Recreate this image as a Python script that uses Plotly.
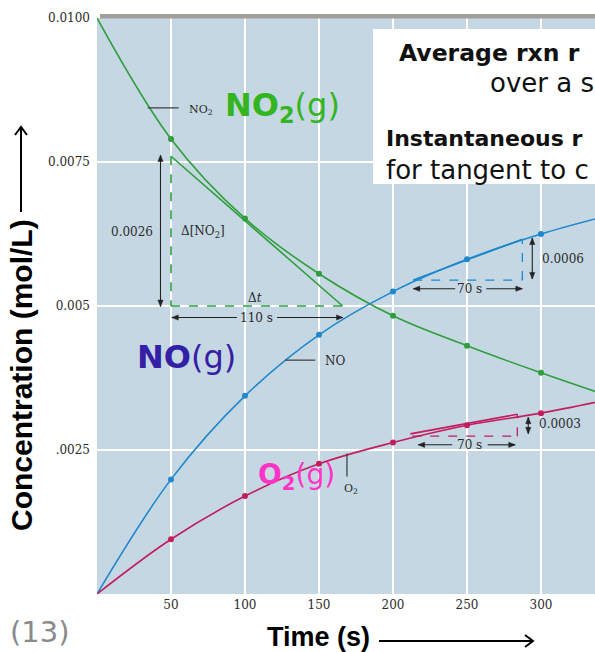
import plotly.graph_objects as go

# ---------------- data ----------------
time_s = [0, 50, 100, 150, 200, 250, 300, 350]
no2_conc = [0.0100, 0.0079, 0.00652, 0.00556, 0.00483, 0.00431, 0.00384, 0.0034]
no_conc = [0.0, 0.00199, 0.00344, 0.00450, 0.00525, 0.00581, 0.00625, 0.0066]
o2_conc = [0.0, 0.00095, 0.00170, 0.00226, 0.00263, 0.00293, 0.00314, 0.0034]

x_tick_vals = [50, 100, 150, 200, 250, 300]
x_tick_text = ["50", "100", "150", "200", "250", "300"]
y_tick_vals = [0.0025, 0.005, 0.0075, 0.0100]
y_tick_text = [".0025", "0.005", "0.0075", "0.0100"]

# tangent / secant constructions (time in s, concentration in mol/L)
no2_tan_t = [50, 166]
no2_tan_c = [0.0076, 0.0050]
no_tan_t = [213.7, 287.4]
no_tan_c = [0.00545, 0.00616]
o2_tan_t = [211.7, 284.0]
o2_tan_c = [0.00278, 0.00312]

# ---------------- style ----------------
GREEN = "#2f9e3c"
BLUE = "#1f88cc"
CRIM = "#c41d5f"
BG = "#c5d7e3"
SERIF = "DejaVu Serif"
TXT = "#2a2a2a"

L, T, W, H = 97, 18, 498, 576
X_RANGE = [0, W / 1.48]
Y_RANGE = [0, 0.0100001]
XS = W / (X_RANGE[1] - X_RANGE[0])   # pixels per second
YS = H / (Y_RANGE[1] - Y_RANGE[0])   # pixels per mol/L

def px(xp):
    return (xp - L) / W
def py(yp):
    return 1 - (yp - T) / H

fig = go.Figure()

for conc, col in [(no2_conc, GREEN), (no_conc, BLUE), (o2_conc, CRIM)]:
    fig.add_trace(go.Scatter(x=time_s, y=conc, mode="lines",
                             line=dict(color=col, width=1.6, shape="spline", smoothing=1.0),
                             hoverinfo="skip", showlegend=False))
    fig.add_trace(go.Scatter(x=time_s[1:7], y=conc[1:7], mode="markers",
                             marker=dict(color=col, size=6),
                             hoverinfo="skip", showlegend=False))

# tangent lines
for tt, cc, col in [(no2_tan_t, no2_tan_c, GREEN), (no_tan_t, no_tan_c, BLUE), (o2_tan_t, o2_tan_c, CRIM)]:
    fig.add_trace(go.Scatter(x=tt, y=cc, mode="lines", line=dict(color=col, width=1.6),
                             hoverinfo="skip", showlegend=False))

shapes = []
def dline(x0, y0, x1, y1, col, dash="dash", width=1.6, ref="x"):
    shapes.append(dict(type="line", xref="x" if ref == "x" else "paper",
                       yref="y" if ref == "x" else "paper", x0=x0, y0=y0, x1=x1, y1=y1,
                       line=dict(color=col, width=width, dash=dash)))

def head(xh, yh, ux, uy, col="#222", ln=6.5, hw=2.6, ref="x", open_=False):
    """arrow head with tip at (xh, yh); (ux, uy) is the pixel direction (y up)."""
    sx, sy = (XS, YS) if ref == "x" else (W, H)
    bx, by = -ux * ln, -uy * ln
    pxp, pyp = -uy * hw, ux * hw
    p1 = (xh + (bx + pxp) / sx, yh + (by + pyp) / sy)
    p2 = (xh + (bx - pxp) / sx, yh + (by - pyp) / sy)
    if open_:
        path = f"M{p1[0]},{p1[1]} L{xh},{yh} L{p2[0]},{p2[1]}"
        shapes.append(dict(type="path", path=path, xref="x" if ref == "x" else "paper",
                           yref="y" if ref == "x" else "paper",
                           line=dict(color=col, width=2)))
    else:
        path = f"M{xh},{yh} L{p1[0]},{p1[1]} L{p2[0]},{p2[1]} Z"
        shapes.append(dict(type="path", path=path, xref="x" if ref == "x" else "paper",
                           yref="y" if ref == "x" else "paper",
                           fillcolor=col, line=dict(color=col, width=0.5)))

def varrow(x, y_top, y_bot):
    dline(x, y_top, x, y_bot, "#222", dash="solid", width=1.1)
    head(x, y_top, 0, 1)
    head(x, y_bot, 0, -1)

def harrow(x_head, x_tail, y):
    dline(x_head, y, x_tail, y, "#222", dash="solid", width=1.1)
    head(x_head, y, 1 if x_head > x_tail else -1, 0)

# dashed triangles
dline(no2_tan_t[0], no2_tan_c[0], no2_tan_t[0], no2_tan_c[1], GREEN)
dline(no2_tan_t[0], no2_tan_c[1], no2_tan_t[1], no2_tan_c[1], GREEN)
dline(no_tan_t[0], no_tan_c[0], no_tan_t[1], no_tan_c[0], BLUE, width=1.3)
dline(no_tan_t[1], no_tan_c[0], no_tan_t[1], no_tan_c[1], BLUE, width=1.3)
dline(213, 0.00274, o2_tan_t[1], 0.00274, CRIM, width=1.3)
dline(o2_tan_t[1], 0.00274, o2_tan_t[1], o2_tan_c[1], CRIM, width=1.3)

# leader lines for small labels
dline(34.2, 0.00844, 55.1, 0.00844, "#444", dash="solid", width=1.3)
dline(127.2, 0.00406, 147.5, 0.00406, "#444", dash="solid", width=1.3)
dline(168.9, 0.00244, 168.9, 0.00204, "#444", dash="solid", width=1.3)

# measurement arrows
varrow(42.9, 0.00762, 0.00499)
harrow(50.5, 94.6, 0.0048)
harrow(166.2, 121.6, 0.0048)
varrow(294.1, 0.00618, 0.00547)
harrow(213.7, 242, 0.0053)
harrow(287.4, 263, 0.0053)
varrow(291.4, 0.00307, 0.00278)
harrow(217, 240, 0.00259)
harrow(282.6, 264, 0.00259)

# white text box and grey top bar
shapes.append(dict(type="rect", xref="paper", yref="paper", x0=px(373), x1=px(600),
                   y0=py(184), y1=py(29), fillcolor="white", line=dict(width=0), layer="above"))
shapes.append(dict(type="rect", xref="paper", yref="paper", x0=px(100), x1=px(600),
                   y0=py(18.5), y1=py(14), fillcolor="#a19f99", line=dict(width=0), layer="above"))

# axis-title arrows (paper coordinates)
dline(px(379), py(641), px(532), py(641), "#000", dash="solid", width=2, ref="paper")
head(px(533), py(641), 1, 0, col="#000", ln=8, hw=6, ref="paper", open_=True)
dline(px(21), py(212), px(21), py(128), "#000", dash="solid", width=2, ref="paper")
head(px(21), py(127), 0, 1, col="#000", ln=8, hw=6, ref="paper", open_=True)

ann = []
def text(x, y, s, size=12, color=TXT, family=SERIF, xanchor="center", ref="x", angle=0):
    ann.append(dict(x=x, y=y, xref="x" if ref == "x" else "paper", yref="y" if ref == "x" else "paper",
                    text=s, showarrow=False, xanchor=xanchor, yanchor="middle", textangle=angle,
                    font=dict(size=size, color=color, family=family)))

# measurement labels
text(23.6, 0.00629, "0.0026")
text(71.8, 0.00629, "Δ[NO<sub>2</sub>]")
text(107, 0.00514, "Δ<i>t</i>")
text(108, 0.0048, "110 s")
text(299.5, 0.00582, "0.0006", xanchor="left")
text(252, 0.0053, "70 s")
text(297.5, 0.00295, "0.0003", xanchor="left")
text(251.5, 0.00259, "70 s")

# small curve labels
text(60.8, 0.00841, "NO<sub>2</sub>", size=11, xanchor="left")
text(152.7, 0.00405, "NO", size=12, xanchor="left")
text(165.5, 0.00182, "O<sub>2</sub>", size=11, xanchor="left")

# big species labels
text(85.3, 0.00846, "<b>NO<sub>2</sub></b>(g)", size=32, color="#33b51f", family="DejaVu Sans", xanchor="left")
text(25.9, 0.00412, "<b>NO</b>(g)", size=32, color="#3420a6", family="DejaVu Sans", xanchor="left")
text(107.5, 0.00204, "<b>O<sub>2</sub></b>(g)", size=28, color="#ff33c8", family="DejaVu Sans", xanchor="left")

# text box lines (the reference slide is cropped at the right edge)
text(px(397), py(53), "<b>Average rxn r</b>", size=23.5, color="#111",
     family="DejaVu Sans", xanchor="left", ref="paper")
text(px(488), py(83), "over a s", size=26, color="#111",
     family="DejaVu Sans", xanchor="left", ref="paper")
text(px(384), py(138), "<b>Instantaneous r</b>", size=22, color="#111",
     family="DejaVu Sans", xanchor="left", ref="paper")
text(px(384), py(170), "for tangent to c", size=26, color="#111",
     family="DejaVu Sans", xanchor="left", ref="paper")

# axis titles
text(px(318), py(637), "<b>Time (s)</b>", size=27, color="#000", family="Liberation Sans", ref="paper")
text(px(21), py(375), "<b>Concentration (mol/L)</b>", size=30, color="#000",
     family="Liberation Sans", ref="paper", angle=-90)
text(px(8), py(632), "(13)", size=29, color="#8a8a8a", family="DejaVu Sans", xanchor="left", ref="paper")

fig.update_layout(
    width=595, height=652,
    margin=dict(l=L, r=0, t=T, b=652 - T - H, pad=0),
    paper_bgcolor="white", plot_bgcolor=BG,
    shapes=shapes, annotations=ann, showlegend=False,
    xaxis=dict(range=X_RANGE, tickvals=x_tick_vals, ticktext=x_tick_text,
               showgrid=True, gridcolor="white", gridwidth=1.5, zeroline=False, showline=False,
               ticks="", tickfont=dict(family=SERIF, size=12, color=TXT), ticklabelstandoff=2,
               fixedrange=True),
    yaxis=dict(range=Y_RANGE, tickvals=y_tick_vals, ticktext=y_tick_text,
               showgrid=True, gridcolor="white", gridwidth=1.5, zeroline=False, showline=False,
               ticks="", tickfont=dict(family=SERIF, size=12, color=TXT), ticklabelstandoff=6,
               fixedrange=True),
)

fig.write_html("out.html", config={"displayModeBar": False},
               post_script="document.body.style.margin='0';document.body.style.overflow='hidden';")
